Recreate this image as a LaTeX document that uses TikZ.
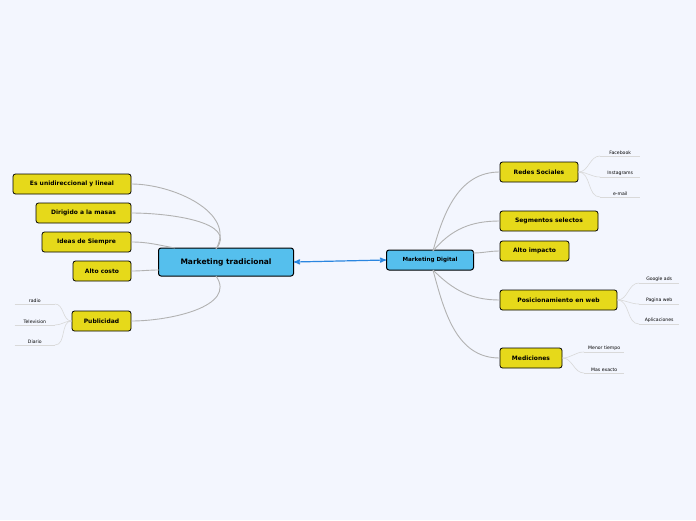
\documentclass[tikz,border=0pt]{standalone}
\usepackage{fontspec}
\setmainfont{DejaVu Sans}
\usetikzlibrary{arrows}
\definecolor{bgc}{HTML}{F3F6FE}
\definecolor{topicc}{HTML}{E6D91A}
\definecolor{mainc}{HTML}{55BFED}
\definecolor{linkc}{HTML}{2A86E0}
\begin{document}
\begin{tikzpicture}[x=1pt,y=-1pt,
  main node/.style={draw,rounded corners=2.5pt,fill=mainc,line width=1pt,font=\bfseries\fontsize{7.5}{8}\selectfont,minimum height=20pt},
  topic node/.style={draw,rounded corners=2.5pt,fill=topicc,line width=0.8pt,font=\bfseries\fontsize{6}{7}\selectfont,minimum height=20pt,inner xsep=4pt},
  leaf node/.style={font=\fontsize{4.6}{5}\selectfont,inner sep=1.5pt,minimum width=40pt},
  branch/.style={draw=gray!60,line width=0.9pt},
  twig/.style={draw=gray!30,line width=0.6pt}]

 \fill[bgc] (0,0) rectangle (696,520);
 \useasboundingbox (0,0) rectangle (696,520);

 \node[main node,minimum width=135pt,minimum height=28pt] (trad) at (226,262) {Marketing tradicional};
 \node[main node,minimum width=87pt,font=\bfseries\fontsize{5.6}{6}\selectfont] (dig) at (430,260) {Marketing Digital};

 \node[topic node,minimum width=118pt] (uni) at (72,184) {Es unidireccional y lineal};
 \node[topic node,minimum width=95pt] (masas) at (83.5,213) {Dirigido a la masas};
 \node[topic node,minimum width=89pt] (ideas) at (86.5,242) {Ideas de Siempre};
 \node[topic node,minimum width=58pt] (costo) at (102,271) {Alto costo};
 \node[topic node,minimum width=59pt] (publi) at (101.5,321) {Publicidad};

 \node[topic node,minimum width=78pt] (redes) at (539,172) {Redes Sociales};
 \node[topic node,minimum width=98pt] (segm) at (549,221) {Segmentos selectos};
 \node[topic node,minimum width=69pt] (impacto) at (534.5,251) {Alto impacto};
 \node[topic node,minimum width=117pt] (posic) at (558.5,300) {Posicionamiento en web};
 \node[topic node,minimum width=62pt] (medic) at (531,358) {Mediciones};

 \node[leaf node,anchor=south east] (radio) at (55,304) {radio};
 \node[leaf node,anchor=south east] (tele) at (55,325) {Television};
 \node[leaf node,anchor=south east] (diario) at (55,345) {Diario};

 \node[leaf node,anchor=south west] (face) at (600,156) {Facebook};
 \node[leaf node,anchor=south west] (insta) at (600,177) {Instagrams};
 \node[leaf node,anchor=south west] (mail) at (600,197) {e-mail};
 \node[leaf node,anchor=south west] (gads) at (639,283) {Google ads};
 \node[leaf node,anchor=south west] (pweb) at (639,304) {Pagina web};
 \node[leaf node,anchor=south west] (aplic) at (639,324) {Aplicaciones};
 \node[leaf node,anchor=south west] (menor) at (584,352) {Menor tiempo};
 \node[leaf node,anchor=south west] (exacto) at (584,373) {Mas exacto};

 \coordinate (tradtop) at (216,249);
 \coordinate (tradbot) at (216,276);
 \coordinate (digtop) at (433,251);
 \coordinate (digbot) at (433,270);

 \path[branch]
    (uni.east)     edge[out=0,in=60] (tradtop)
    (masas.east)   edge[out=0,in=50] (tradtop)
    (ideas.east)   edge[out=0,in=170] (175,248)
    (costo.east)   edge[out=0,in=180] (159,270)
    (publi.east)   edge[out=0,in=-55] (tradbot)
    (redes.west)   edge[out=180,in=75] (digtop)
    (segm.west)    edge[out=180,in=50] (digtop)
    (impacto.west) edge[out=180,in=0] (473,253)
    (posic.west)   edge[out=180,in=-45] (digbot)
    (medic.west)   edge[out=180,in=-75] (digbot);

 \path[twig]
    (publi.west) edge[out=180,in=0] (radio.south east)
    (publi.west) edge[out=180,in=0] (tele.south east)
    (publi.west) edge[out=180,in=0] (diario.south east)
    (redes.east) edge[out=0,in=180] (face.south west)
    (redes.east) edge[out=0,in=180] (insta.south west)
    (redes.east) edge[out=0,in=180] (mail.south west)
    (posic.east) edge[out=0,in=180] (gads.south west)
    (posic.east) edge[out=0,in=180] (pweb.south west)
    (posic.east) edge[out=0,in=180] (aplic.south west)
    (medic.east) edge[out=0,in=180] (menor.south west)
    (medic.east) edge[out=0,in=180] (exacto.south west);
 \foreach \leaf in {radio,tele,diario,face,insta,mail,gads,pweb,aplic,menor,exacto}
   \draw[twig] (\leaf.south west) -- (\leaf.south east);

 \draw[<->,>=stealth',draw=linkc,line width=1.2pt] (trad.east) -- (dig.west);
\end{tikzpicture}
\end{document}
